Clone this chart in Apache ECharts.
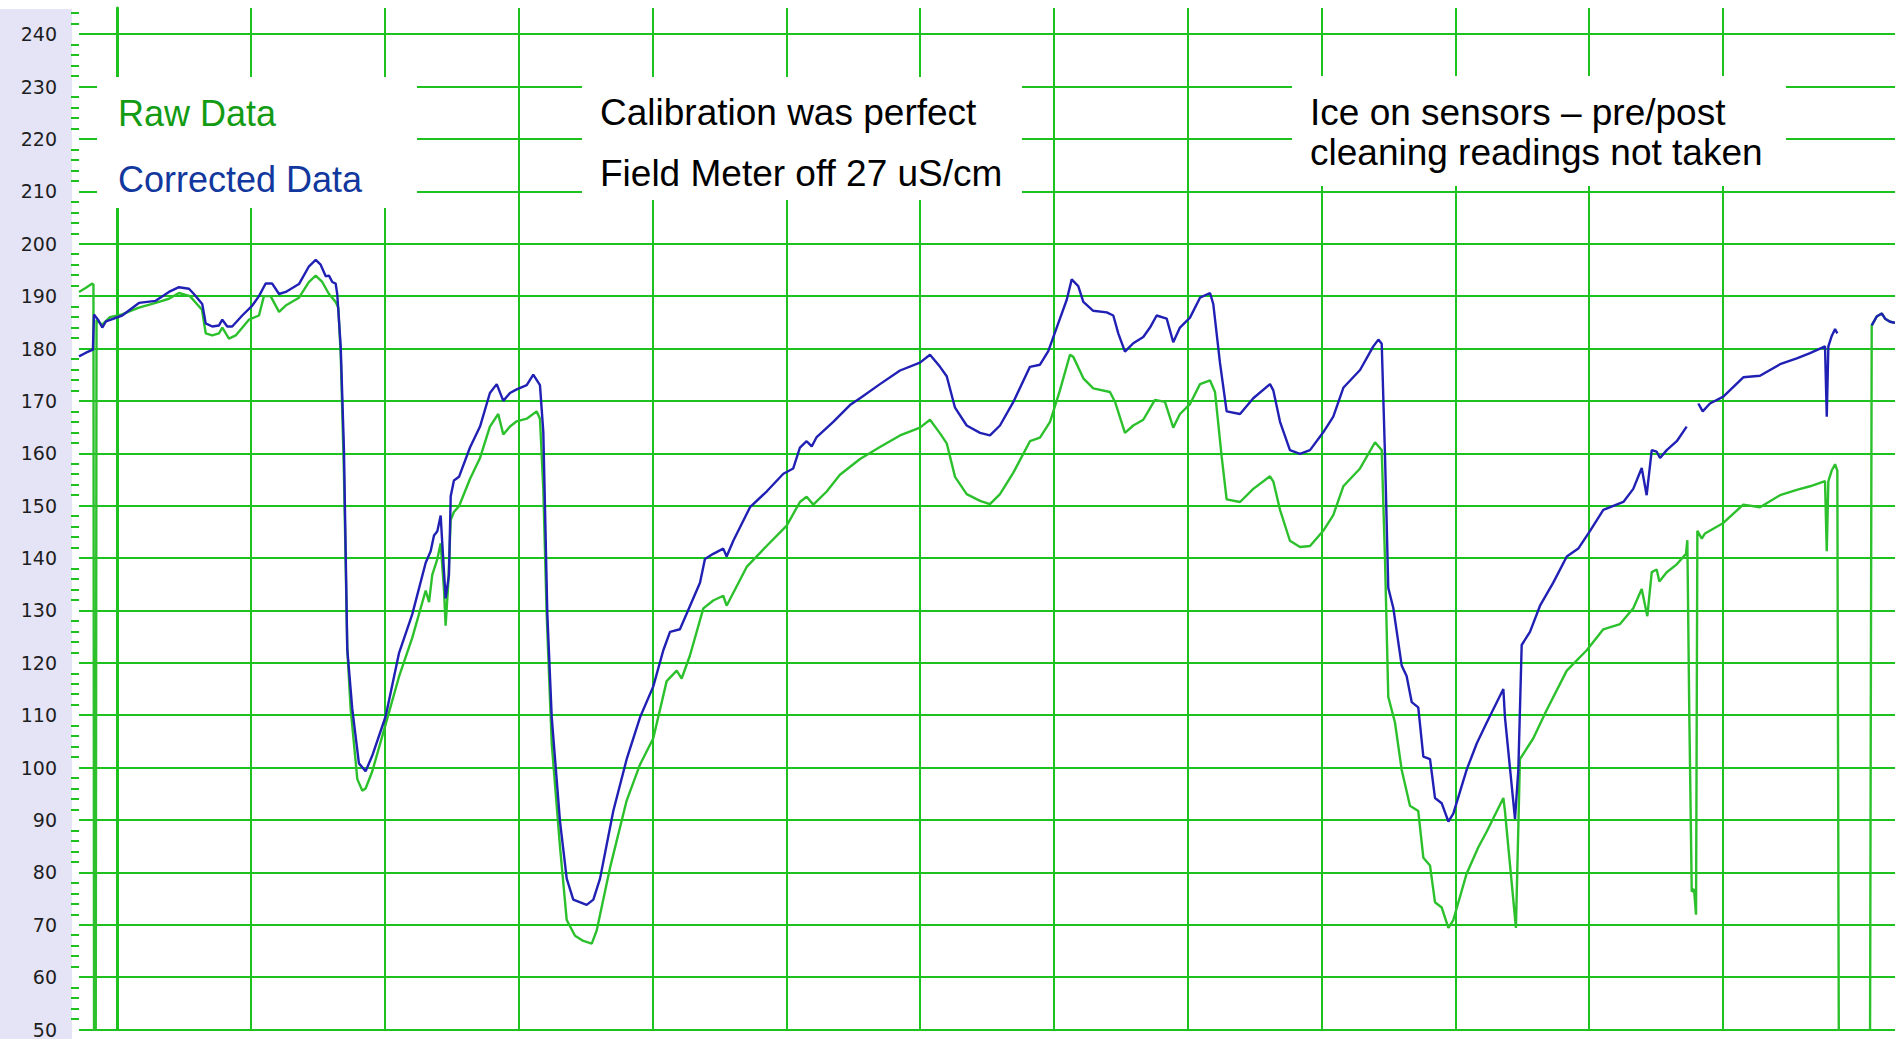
<!DOCTYPE html>
<html><head><meta charset="utf-8">
<script src="https://cdn.jsdelivr.net/npm/echarts@6/dist/echarts.min.js"></script>
<style>html,body{margin:0;padding:0;background:#fff;}#c{width:1895px;height:1039px;}</style>
</head><body><div id="c"></div>
<script>
// ---- data (time in days, conductivity in uS/cm) ----
const yTicks = [50,60,70,80,90,100,110,120,130,140,150,160,170,180,190,200,210,220,230,240];
const dayLines = [0,1,2,3,4,5,6,7,8,9,10,11,12,13];
const legendLabels = ['Raw Data', 'Corrected Data'];
const noteCalibration = ['Calibration was perfect', 'Field Meter off 27 uS/cm'];
const noteIce = ['Ice on sensors \u2013 pre/post', 'cleaning readings not taken'];

const rawData = [
[-0.286,190.8],[-0.234,191.6],[-0.187,192.4],[-0.178,192.2],[-0.172,0],[-0.163,0],[-0.155,185.5],
[-0.114,184.5],[-0.055,186.0],[0.035,186.5],[0.162,187.8],[0.287,188.7],[0.386,189.5],[0.461,190.6],
[0.543,190.0],[0.633,187.4],[0.661,182.9],[0.710,182.5],[0.760,182.9],[0.785,184.0],[0.835,181.9],
[0.885,182.5],[0.984,185.5],[1.059,186.3],[1.096,190.0],[1.146,190.0],[1.209,187.0],[1.259,188.2],
[1.358,189.7],[1.433,192.7],[1.483,193.9],[1.532,192.7],[1.582,190.4],[1.632,188.9],[1.652,187.8],
[1.670,178.8],[1.694,156.3],[1.719,122.6],[1.744,111.3],[1.794,97.8],[1.831,95.6],[1.856,96.0],
[1.906,99.3],[2.006,108.3],[2.105,117.3],[2.205,124.8],[2.305,133.8],[2.330,131.6],[2.354,136.8],
[2.392,139.8],[2.417,142.8],[2.442,133.8],[2.454,127.1],[2.474,135.3],[2.492,147.3],[2.516,148.8],
[2.554,149.9],[2.636,155.1],[2.711,159.1],[2.785,165.1],[2.847,167.5],[2.885,163.6],[2.935,165.1],
[2.985,166.1],[3.060,166.6],[3.134,168.0],[3.159,166.6],[3.184,153.2],[3.209,129.4],[3.247,104.6],
[3.309,84.8],[3.359,70.9],[3.421,67.9],[3.483,66.9],[3.546,66.4],[3.583,68.9],[3.682,80.8],
[3.807,93.7],[3.907,100.6],[4.006,105.6],[4.106,116.5],[4.181,118.5],[4.218,117.0],[4.280,121.4],
[4.380,130.4],[4.454,131.9],[4.529,132.8],[4.554,130.9],[4.704,138.3],[4.853,142.3],[5.003,146.2],
[5.102,150.7],[5.152,151.7],[5.202,150.2],[5.302,152.7],[5.401,155.9],[5.551,158.9],[5.700,161.2],
[5.850,163.4],[5.999,164.9],[6.074,166.4],[6.149,163.8],[6.199,161.9],[6.261,155.5],[6.348,152.2],
[6.448,150.9],[6.522,150.3],[6.597,152.2],[6.697,156.3],[6.821,162.3],[6.896,163.0],[6.971,166.0],
[7.045,172.0],[7.120,178.8],[7.145,178.4],[7.220,174.3],[7.294,172.4],[7.419,171.7],[7.457,169.8],
[7.531,163.9],[7.593,165.3],[7.668,166.4],[7.755,170.2],[7.830,169.8],[7.892,164.9],[7.942,167.5],
[8.017,169.4],[8.092,173.2],[8.167,173.9],[8.204,171.7],[8.254,159.3],[8.291,151.2],[8.391,150.7],
[8.490,153.2],[8.615,155.6],[8.640,154.6],[8.690,149.2],[8.764,143.3],[8.839,142.1],[8.914,142.3],
[9.013,145.2],[9.088,148.2],[9.163,153.7],[9.288,157.1],[9.400,162.1],[9.450,160.6],[9.475,139.3],
[9.499,113.5],[9.549,108.6],[9.599,99.6],[9.661,92.7],[9.723,91.7],[9.761,82.8],[9.811,81.3],
[9.848,74.3],[9.898,73.3],[9.948,69.4],[9.985,70.9],[10.085,79.8],[10.172,84.8],[10.235,87.8],
[10.359,94.2],[10.371,91.7],[10.453,69.4],[10.483,101.6],[10.583,105.6],[10.683,111.0],[10.833,118.5],
[10.982,122.4],[11.106,126.4],[11.231,127.4],[11.330,130.4],[11.393,134.1],[11.435,128.9],[11.468,137.3],
[11.505,137.8],[11.525,135.5],[11.580,137.3],[11.655,138.8],[11.724,140.8],[11.734,143.4],[11.749,109.6],
[11.767,76.3],[11.784,76.8],[11.799,71.9],[11.809,145.2],[11.842,143.7],[11.866,144.7],[12.003,146.7],
[12.152,150.2],[12.277,149.7],[12.427,152.0],[12.552,153.0],[12.651,153.7],[12.763,154.7],[12.776,141.3],
[12.788,154.7],[12.813,156.7],[12.838,157.9],[12.855,156.7],[12.871,0],[13.095,0],[13.112,184.4],
[13.149,186.1],[13.187,186.7],[13.212,185.7],[13.249,185.1],[13.286,184.9]
];

const correctedData = [
[-0.286,178.5],[-0.234,179.2],[-0.182,179.8],[-0.174,186.5],[-0.144,185.5],[-0.112,184.0],[-0.084,185.2],
[0.037,186.3],[0.162,188.7],[0.287,189.1],[0.386,190.8],[0.461,191.7],[0.536,191.4],[0.573,190.4],
[0.635,188.5],[0.661,184.8],[0.710,184.2],[0.760,184.4],[0.785,185.5],[0.822,184.2],[0.859,184.2],
[0.934,186.3],[1.009,188.2],[1.059,190.0],[1.109,192.4],[1.158,192.4],[1.209,190.4],[1.259,190.8],
[1.358,192.3],[1.433,195.7],[1.483,196.9],[1.520,196.0],[1.558,193.8],[1.582,193.9],[1.607,192.7],
[1.632,192.4],[1.644,190.4],[1.670,180.3],[1.694,160.8],[1.707,141.3],[1.719,122.6],[1.756,111.3],
[1.806,100.8],[1.856,99.3],[1.906,102.3],[2.006,109.8],[2.105,121.8],[2.205,129.3],[2.305,139.1],
[2.342,141.3],[2.367,144.3],[2.392,145.1],[2.417,148.1],[2.429,142.8],[2.454,132.3],[2.479,136.8],
[2.492,151.8],[2.516,154.8],[2.554,155.5],[2.636,161.1],[2.711,165.1],[2.785,171.5],[2.836,173.2],
[2.885,170.0],[2.935,171.5],[2.985,172.2],[3.060,173.0],[3.109,175.0],[3.159,173.0],[3.184,164.1],
[3.197,149.2],[3.214,129.4],[3.247,109.6],[3.309,89.7],[3.359,78.8],[3.408,74.8],[3.508,73.8],
[3.558,74.8],[3.608,78.8],[3.707,91.7],[3.807,101.6],[3.907,109.6],[4.006,115.5],[4.081,122.4],
[4.131,125.9],[4.205,126.4],[4.256,129.4],[4.355,135.3],[4.392,139.8],[4.454,140.8],[4.529,141.8],
[4.554,140.3],[4.604,143.3],[4.729,149.7],[4.853,152.7],[4.978,156.1],[5.052,157.1],[5.102,161.1],
[5.152,162.3],[5.190,161.3],[5.227,163.1],[5.351,166.0],[5.476,169.2],[5.551,170.5],[5.700,173.2],
[5.850,175.8],[5.999,177.3],[6.074,178.8],[6.149,176.5],[6.199,174.7],[6.261,168.7],[6.348,165.3],
[6.448,163.9],[6.522,163.4],[6.597,165.3],[6.697,169.8],[6.821,176.5],[6.896,176.9],[6.958,179.5],
[7.021,184.0],[7.096,189.3],[7.133,193.2],[7.182,191.9],[7.220,188.9],[7.294,187.2],[7.395,186.9],
[7.444,186.3],[7.481,182.9],[7.531,179.4],[7.593,181.0],[7.668,182.2],[7.718,184.0],[7.768,186.3],
[7.843,185.7],[7.892,181.2],[7.942,184.0],[8.017,185.9],[8.092,189.7],[8.167,190.6],[8.191,188.5],
[8.241,177.3],[8.291,168.0],[8.391,167.5],[8.490,170.5],[8.615,173.2],[8.640,172.0],[8.690,166.0],
[8.764,160.6],[8.839,159.9],[8.914,160.6],[9.013,164.0],[9.088,167.0],[9.163,172.5],[9.288,175.9],
[9.387,180.4],[9.425,181.7],[9.450,180.9],[9.475,159.1],[9.499,134.3],[9.537,130.4],[9.599,119.5],
[9.636,117.5],[9.674,112.5],[9.723,111.5],[9.761,102.1],[9.811,101.6],[9.848,94.2],[9.898,93.2],
[9.948,89.7],[9.985,91.2],[10.085,99.6],[10.160,104.6],[10.235,108.6],[10.359,115.0],[10.371,109.6],
[10.446,90.2],[10.471,99.6],[10.496,123.4],[10.558,125.9],[10.633,130.9],[10.732,135.3],[10.833,140.3],
[10.919,141.8],[11.007,145.2],[11.106,149.2],[11.256,150.7],[11.330,153.2],[11.393,157.2],[11.430,152.0],
[11.468,160.6],[11.505,160.3],[11.530,159.1],[11.580,160.6],[11.655,162.3],[11.729,165.1],[11.760,null],
[11.816,169.5],[11.849,168.0],[11.903,169.5],[12.003,170.8],[12.152,174.5],[12.277,174.8],[12.427,177.0],
[12.552,178.1],[12.651,179.1],[12.763,180.4],[12.776,167.0],[12.788,180.4],[12.813,182.4],[12.838,183.7],
[12.855,182.9],[12.95,null],[13.112,184.4],[13.149,186.1],[13.187,186.7],[13.212,185.7],[13.249,185.1],
[13.286,184.9]
];

// ---- styling ----
const GRID_GREEN = '#1ec21e';
const RAW_GREEN = '#2cc02c';
const CORR_BLUE = '#2020b4';
const yMinorTicks = [];
for (let v = 52; v < 245; v += 2) { if (v % 10 !== 0) yMinorTicks.push(v); }

const chart = echarts.init(document.getElementById('c'), null, {renderer: 'svg'});

function box(x, y, w, h) {
  return {type: 'rect', x: x, y: y, z: 50, silent: true, shape: {width: w, height: h}, style: {fill: '#ffffff'}};
}
function label(x, y, text, size, color) {
  return {type: 'text', x: x, y: y, z: 51, silent: true,
    style: {text: text, fill: color, font: size + 'px "Liberation Sans", Arial, sans-serif', align: 'left', verticalAlign: 'middle'}};
}

const option = {
  animation: false,
  backgroundColor: '#ffffff',
  grid: {left: 79, right: 0, top: 8, bottom: 2, containLabel: false},
  xAxis: {
    type: 'value', min: -0.286, max: 13.286,
    axisLine: {show: false},
    axisTick: {show: false, customValues: dayLines},
    axisLabel: {show: false},
    splitLine: {show: true, showMinLine: false, showMaxLine: false, lineStyle: {color: GRID_GREEN, width: 2}}
  },
  yAxis: [{
    type: 'value', min: 50, max: 245, interval: 10, position: 'left',
    axisLine: {show: true, lineStyle: {color: GRID_GREEN, width: 3}},
    axisTick: {show: true, length: 16, lineStyle: {color: GRID_GREEN, width: 2}, customValues: yTicks},
    axisLabel: {show: true, customValues: yTicks, margin: 22, fontSize: 19, color: '#1e1e1e', fontFamily: '"DejaVu Sans", sans-serif'},
    splitLine: {show: true, showMinLine: true, showMaxLine: true, lineStyle: {color: GRID_GREEN, width: 2}}
  }, {
    type: 'value', min: 50, max: 245, position: 'left',
    axisLine: {show: false},
    axisTick: {show: true, length: 8, lineStyle: {color: GRID_GREEN, width: 2}, customValues: yMinorTicks},
    axisLabel: {show: false},
    splitLine: {show: false}
  }],
  series: [{
    name: legendLabels[0], type: 'line', data: rawData, showSymbol: false, z: 3,
    clip: true, connectNulls: false,
    lineStyle: {color: RAW_GREEN, width: 2.4}, itemStyle: {color: RAW_GREEN}
  }, {
    name: legendLabels[1], type: 'line', data: correctedData, showSymbol: false, z: 4,
    clip: true, connectNulls: false,
    lineStyle: {color: CORR_BLUE, width: 2.4}, itemStyle: {color: CORR_BLUE}
  }],
  graphic: [
    {type: 'rect', x: 0, y: 9, z: -1, silent: true, shape: {width: 72, height: 1030}, style: {fill: '#e4e4f6'}},
    box(97, 77, 320, 131),
    label(118, 113, legendLabels[0], 36, '#139b13'),
    label(118, 179, legendLabels[1], 36, '#12389e'),
    box(582, 77, 440, 123),
    label(600, 112, noteCalibration[0], 37, '#000000'),
    label(600, 173, noteCalibration[1], 37, '#000000'),
    box(1292, 76, 494, 110),
    label(1310, 112, noteIce[0], 37, '#000000'),
    label(1310, 152, noteIce[1], 37, '#000000')
  ]
};
chart.setOption(option);
</script>
</body></html>
